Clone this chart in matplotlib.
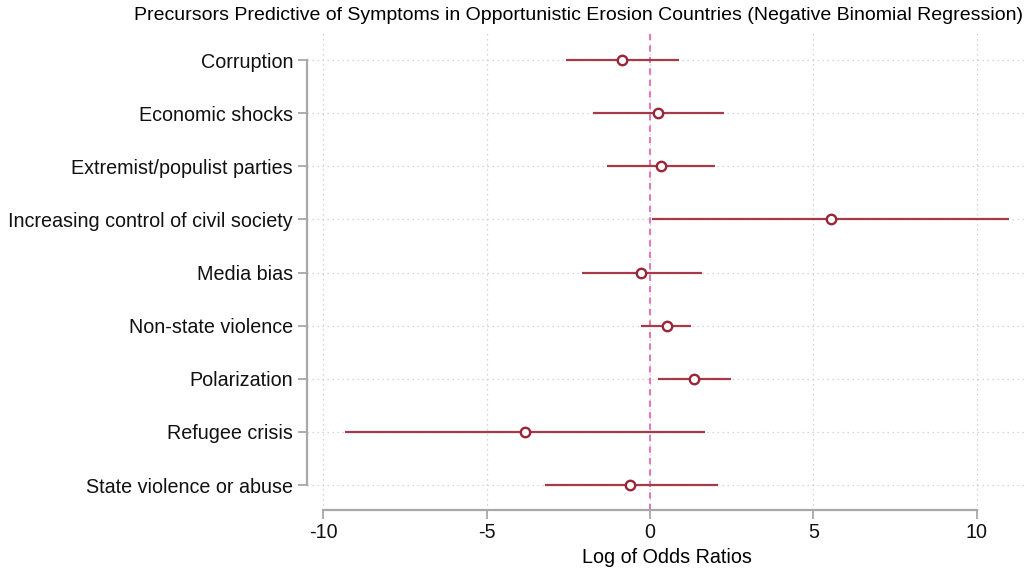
import numpy as np
import matplotlib.pyplot as plt

# coefficient estimates with 95% CI (log odds ratios)
labels = ['Corruption', 'Economic shocks', 'Extremist/populist parties',
          'Increasing control of civil society', 'Media bias', 'Non-state violence',
          'Polarization', 'Refugee crisis', 'State violence or abuse']
coef = [-0.86, 0.24, 0.34, 5.54, -0.28, 0.52, 1.35, -3.82, -0.61]
ci_lo = [-2.57, -1.74, -1.31, 0.06, -2.08, -0.28, 0.24, -9.33, -3.21]
ci_hi = [0.89, 2.26, 1.99, 10.98, 1.59, 1.25, 2.48, 1.68, 2.08]
xticks = [-10, -5, 0, 5, 10]

plt.rcParams['font.family'] = ['Liberation Sans', 'DejaVu Sans']
fs = 14.2

W, H = 1029, 568
fig = plt.figure(figsize=(W / 100, H / 100), dpi=100)
ax = fig.add_axes([307 / W, 1 - 510 / H, (1027 - 307) / W, (510 - 32) / H])

y = np.arange(len(labels))
red = '#a53a4b'
ax.hlines(y, ci_lo, ci_hi, color=red, lw=1.6, zorder=3)
ax.plot(coef, y, 'o', mfc='white', mec='#9b2537', mew=1.7, ms=6.8, zorder=4)
ax.axvline(0, color='#e07ab8', lw=1.5, ls=(0, (3, 2.5)), zorder=2)

ax.set_xlim(-10.49, 11.53)
ax.set_ylim(8.47, -0.53)
ax.set_xticks(xticks)
ax.set_xticklabels([str(v) for v in xticks])
ax.set_yticks(y)
ax.set_yticklabels(labels)

ax.grid(True, color='#c9c9c9', lw=0.9, ls=(0, (1, 3)), zorder=0)
for s in ['top', 'right']:
    ax.spines[s].set_visible(False)
for s in ['left', 'bottom']:
    ax.spines[s].set_color('#a8a8a8')
    ax.spines[s].set_linewidth(1.6)
ax.spines['left'].set_bounds(0, 8)
ax.spines['bottom'].set_bounds(-10, 10)
ax.tick_params(axis='both', colors='#a8a8a8', length=6.5, width=1.3,
               labelcolor='#111111', labelsize=fs)
ax.tick_params(axis='y', pad=3.5)
ax.tick_params(axis='x', pad=3)

ax.set_xlabel('Log of Odds Ratios', fontsize=fs, labelpad=4)
fig.text(578 / W, 1 - 16 / H,
         'Precursors Predictive of Symptoms in Opportunistic Erosion Countries (Negative Binomial Regression)',
         ha='center', va='center', fontsize=14)

fig.savefig('out.png', dpi=100, facecolor='white')
